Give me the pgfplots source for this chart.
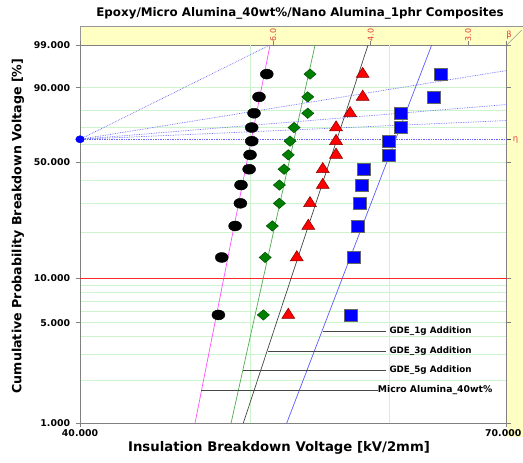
\documentclass[border=0pt]{standalone}
\usepackage{fontspec}
\setmainfont{DejaVu Sans}
\usepackage{pgfplots}
\pgfplotsset{compat=1.18}
\usepackage{pgfplotstable}

\definecolor{gridgreen}{RGB}{205,245,205}
\definecolor{bandyellow}{RGB}{255,255,195}
\definecolor{bandgray}{RGB}{150,150,150}
\definecolor{fitmag}{RGB}{255,80,255}
\definecolor{fitgreen}{RGB}{80,170,80}
\definecolor{fitgray}{RGB}{70,70,70}
\definecolor{fitblue}{RGB}{90,90,255}
\definecolor{dotblue}{RGB}{100,100,255}
\definecolor{darkgreen}{RGB}{0,128,0}
\definecolor{axgray}{RGB}{128,128,128}
\definecolor{betared}{RGB}{225,60,60}

% median ranks F [%] and breakdown voltage V [kV/2mm]
\pgfplotstableread{
F V
5.645 47.96
13.710 48.17
21.774 49.02
29.839 49.36
37.903 49.40
45.968 49.93
54.032 49.99
62.097 50.10
70.161 50.10
78.226 50.25
86.290 50.58
94.355 51.10
}\micro
\pgfplotstableread{
F V
5.645 50.87
13.710 50.99
21.774 51.47
29.839 51.95
37.903 51.95
45.968 52.27
54.032 52.56
62.097 52.68
70.161 52.96
78.226 53.92
86.290 53.92
94.355 54.08
}\gdefive
\pgfplotstableread{
F V
5.645 52.56
13.710 53.15
21.774 53.96
29.839 54.08
37.903 54.99
45.968 54.99
54.032 55.96
62.097 55.96
70.161 55.96
78.226 57.00
86.290 57.95
94.355 57.95
}\gdethree
\pgfplotstableread{
F V
5.645 57.07
13.710 57.30
21.774 57.60
29.839 57.75
37.903 57.90
45.968 58.05
54.032 59.98
62.097 59.95
70.161 60.94
78.226 60.94
86.290 63.58
94.355 64.20
}\gdeone
% fitted Weibull lines, end points at 1% and 99%
\pgfplotstableread{
F Vmic Vfive Vthree Vone
1 46.51 48.76 49.55 52.45
99 51.32 54.44 58.36 63.44
}\fits

\begin{document}
\begin{tikzpicture}
\useasboundingbox (0,0) rectangle (523bp,463bp);
% yellow beta / eta bands
\fill[bandyellow] (80bp,418bp) rectangle (523bp,437bp);
\fill[bandyellow] (506.7bp,26bp) rectangle (523bp,437bp);
\draw[bandgray, line width=0.6bp] (80bp,418bp) -- (80bp,437bp) -- (523bp,437bp);
\draw[bandgray, line width=0.6bp] (506.7bp,418bp) -- (521.7bp,433bp);
\begin{axis}[
  at={(80bp,39.7bp)}, anchor=south west,
  scale only axis, width=426.7bp, height=378.3bp,
  xmode=log, xmin=40, xmax=70,
  ymin=-4.6002, ymax=1.5272,
  clip=false,
  axis line style={axgray, line width=0.8bp},
  tick style={axgray, line width=0.6bp},
  tick align=outside, major tick length=4bp, minor tick length=0pt,
  ticklabel style={font=\bfseries\fontsize{9.4}{11}\selectfont, text=black},
  xtick={40,70}, xticklabels={40.000,{\kern-7bp 70.000}},
  extra x ticks={50,60}, extra x tick labels={},
  extra x tick style={grid=major, major tick length=0pt},
  ytick={-4.6002,-2.9702,-0.3665,0.8340,1.5272},
  yticklabels={1.000,5.000,50.000,90.000,99.000},
  extra y ticks={-2.2504}, extra y tick labels={10.000},
  extra y tick style={grid=major, major grid style={red!85!white, line width=0.7bp}},
  ymajorgrids, yminorgrids,
  minor ytick={-3.9019,-3.4913,-3.1985,-2.7827,-2.6232,-2.4843,-2.3612,-1.4999,-1.0310,-0.6717,-0.0874,0.1856,0.4759},
  major grid style={gridgreen, line width=0.7bp},
  minor grid style={gridgreen, line width=0.7bp},
  yticklabel style={xshift=-2.5bp},
  xticklabel style={yshift=1bp},
]
% data points
\addplot[only marks, mark=*, mark size=5bp, mark options={fill=black, draw=black, xscale=1.3}]
  table[x=V, y expr={ln(-ln(1-\thisrow{F}/100))}] {\micro};
\addplot[only marks, mark=diamond*, mark size=5.2bp, mark options={fill=darkgreen, draw=darkgreen!60!black, xscale=1.55, line width=0.5bp}]
  table[x=V, y expr={ln(-ln(1-\thisrow{F}/100))}] {\gdefive};
\addplot[only marks, mark=triangle*, mark size=6.8bp, mark options={fill=red, draw=red!50!black, xscale=1.1, line width=0.5bp}]
  table[x=V, y expr={ln(-ln(1-\thisrow{F}/100))}] {\gdethree};
\addplot[only marks, mark=square*, mark size=6bp, mark options={fill=blue, draw=black!60, xscale=1.08, line width=0.6bp}]
  table[x=V, y expr={ln(-ln(1-\thisrow{F}/100))}] {\gdeone};
% fitted lines
\addplot[fitmag, line width=0.7bp] table[x=Vmic, y expr={ln(-ln(1-\thisrow{F}/100))}] {\fits};
\addplot[fitgreen, line width=0.7bp] table[x=Vfive, y expr={ln(-ln(1-\thisrow{F}/100))}] {\fits};
\addplot[fitgray, line width=0.7bp] table[x=Vthree, y expr={ln(-ln(1-\thisrow{F}/100))}] {\fits};
\addplot[fitblue, line width=0.7bp] table[x=Vone, y expr={ln(-ln(1-\thisrow{F}/100))}] {\fits};
% beta / eta pivot lines
\addplot[dotblue, densely dotted, line width=0.7bp] coordinates {(40,0) (51.32,1.5272)};
\addplot[dotblue, densely dotted, line width=0.7bp] coordinates {(40,0) (70,1.114)};
\addplot[dotblue, densely dotted, line width=0.7bp] coordinates {(40,0) (70,0.563)};
\addplot[dotblue, densely dotted, line width=0.7bp] coordinates {(40,0) (70,0.304)};
\addplot[dotblue, densely dotted, line width=0.7bp] coordinates {(40,0) (70,0)};
\addplot[only marks, mark=*, mark size=3.6bp, mark options={fill=blue, draw=blue, xscale=1.2}] coordinates {(40,0)};
\end{axis}
% beta scale
\foreach \bx/\bl in {273.3/6.0, 370.7/4.0, 468.3/3.0} {
  \draw[axgray, line width=0.6bp] (\bx bp,418bp) -- (\bx bp,422.3bp);
  \node[rotate=90, text=betared, font=\fontsize{8}{9}\selectfont, inner sep=0pt] at (\bx bp,428bp) {\bl};
}
\node[text=betared, font=\fontsize{8.5}{9}\selectfont, inner sep=0pt] at (509bp,428bp) {β};
\draw[black!70, line width=0.6bp] (506.7bp,323.7bp) -- (511bp,323.7bp);
\node[text=betared, font=\fontsize{8.5}{9}\selectfont, inner sep=0pt] at (515.5bp,323bp) {η};
% labels of fitted lines
\draw[fitgray, line width=0.6bp] (323bp,131.3bp) -- (386bp,131.3bp);
\draw[fitgray, line width=0.6bp] (268bp,111.3bp) -- (386bp,111.3bp);
\draw[fitgray, line width=0.6bp] (243bp,92.3bp) -- (386bp,92.3bp);
\draw[fitgray, line width=0.6bp] (201bp,73bp) -- (378bp,73bp);
\node[anchor=west, inner sep=0pt, font=\bfseries\fontsize{8.8}{10}\selectfont] at (389.3bp,131.3bp) {GDE\_1g Addition};
\node[anchor=west, inner sep=0pt, font=\bfseries\fontsize{8.8}{10}\selectfont] at (389.3bp,111.3bp) {GDE\_3g Addition};
\node[anchor=west, inner sep=0pt, font=\bfseries\fontsize{8.8}{10}\selectfont] at (389.3bp,92.3bp) {GDE\_5g Addition};
\node[anchor=west, inner sep=0pt, font=\bfseries\fontsize{9.3}{10}\selectfont] at (377.7bp,73bp) {Micro Alumina\_40wt\%};
% titles
\node[font=\bfseries\fontsize{11.9}{13}\selectfont] at (300bp,449.7bp) {Epoxy/Micro Alumina\_40wt\%/Nano Alumina\_1phr Composites};
\node[rotate=90, font=\bfseries\fontsize{12.7}{14}\selectfont] at (18bp,237bp) {Cumulative Probability Breakdown Voltage [\%]};
\node[font=\bfseries\fontsize{13.3}{15}\selectfont] at (279bp,15bp) {Insulation Breakdown Voltage [kV/2mm]};
\end{tikzpicture}
\end{document}
